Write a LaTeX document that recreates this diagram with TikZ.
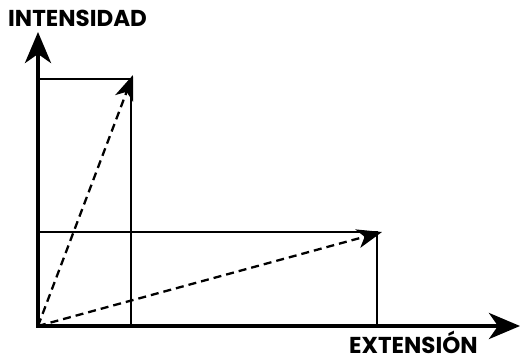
\documentclass[tikz,border=0pt]{standalone}
\usepackage{fontspec}
\setmainfont{Poppins}[UprightFont=* Bold]
\usetikzlibrary{arrows.meta}
\begin{document}
\begin{tikzpicture}[x=1pt,y=-1pt,
  axtip/.tip={Stealth[length=31pt,width=26pt,inset=9pt]},
  vtip/.tip={Stealth[length=25pt,width=19pt,inset=7pt]},
  axis/.style={line width=4.2pt, line join=miter},
  vec/.style={line width=2.3pt, dash pattern=on 8pt off 5pt, -{vtip[sep=0pt]}},
  guide/.style={line width=1.7pt},
  lab/.style={font=\fontsize{23}{25}\selectfont, inner sep=0pt, text depth=0pt}]
\useasboundingbox (0,0) rectangle (520,361);
\coordinate (O) at (38,326);
\coordinate (Ytip) at (38,32);
\coordinate (Xtip) at (520,326);
\coordinate (A) at (133,75);
\coordinate (B) at (382,232);
\coordinate (Ay) at (38,79);
\coordinate (Ac) at (131,79);
\coordinate (Ax) at (131,326);
\coordinate (By) at (38,232);
\coordinate (Bc) at (377,232);
\coordinate (Bx) at (377,326);
\draw[guide] (Ay) -- (Ac) -- (Ax);
\draw[guide] (By) -- (Bc) -- (Bx);
\draw[vec] (O) -- (A);
\draw[vec] (O) -- (B);
\draw[axis, axtip-axtip] (Ytip) -- (O) -- (Xtip);
\node[lab, anchor=base west] (ly) at (8,27) {INTENSIDAD};
\node[lab, anchor=base west] (lx) at (349,353) {EXTENSIÓN};
\end{tikzpicture}
\end{document}
